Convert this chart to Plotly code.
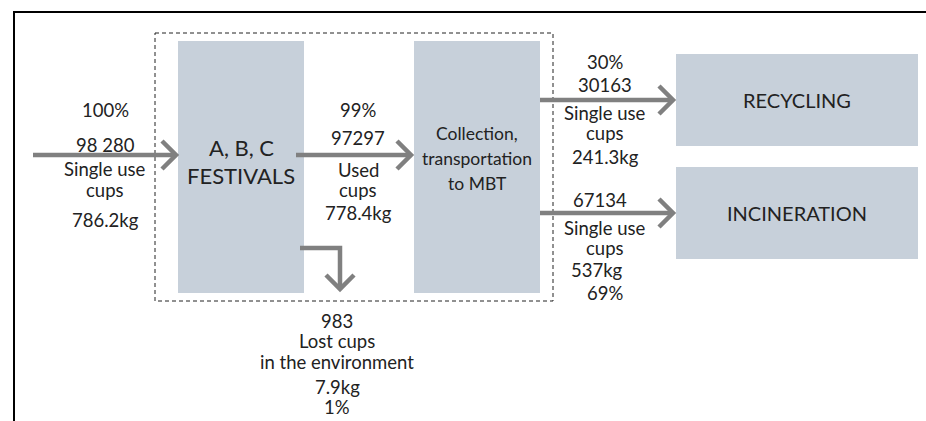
import plotly.graph_objects as go

# ---------------- data ----------------
stage_labels = ["A, B, C<br>FESTIVALS", "Collection,<br>transportation<br>to MBT", "RECYCLING", "INCINERATION"]
flow_names = ["input", "used", "recycling", "incineration", "lost"]
flow_cups = [98280, 97297, 30163, 67134, 983]
flow_kg = [786.2, 778.4, 241.3, 537, 7.9]
flow_pct = [100, 99, 30, 69, 1]
flow_desc = [["Single use", "cups"], ["Used", "cups"], ["Single use", "cups"],
             ["Single use", "cups"], ["Lost cups", "in the environment"]]

# ---------------- style / layout ----------------
W, H = 926, 421
BOX = "#c7d0da"
ARROW = "#808080"
TXT = "#222222"
FONT = "Lato"
FS = 18.5

fig = go.Figure()
shapes = []
ann = []

def rect(x0, y0, x1, y1):
    shapes.append(dict(type="rect", xref="x", yref="y", x0=x0, y0=y0, x1=x1, y1=y1,
                       fillcolor=BOX, line=dict(width=0), layer="below"))

def line(pts, color=ARROW, width=4.5, dash=None):
    path = "M " + " L ".join(f"{x},{y}" for x, y in pts)
    shapes.append(dict(type="path", xref="x", yref="y", path=path,
                       line=dict(color=color, width=width, dash=dash)))

def arrow_right(x0, x1, y, a=14):
    line([(x0, y), (x1 - 2, y)])
    line([(x1 - a, y - a), (x1, y), (x1 - a, y + a)])

def text(x, y, s, size=FS):
    ann.append(dict(x=x, y=y, xref="x", yref="y", text=s, showarrow=False,
                    font=dict(family=FONT, size=size, color=TXT),
                    xanchor="center", yanchor="middle"))

# outer frame (top and left border)
line([(14, H + 5), (14, 12), (W + 5, 12)], color="#000000", width=2)
# dashed system boundary
shapes.append(dict(type="rect", xref="x", yref="y", x0=155, y0=33, x1=553, y1=301,
                   line=dict(color="#222222", width=1, dash="4px,3px")))

# process boxes
rect(178, 41, 304, 293)
rect(414, 41, 540, 293)
rect(676, 54, 918, 146)
rect(676, 167, 918, 259)

# arrows
arrow_right(33, 176, 155)
arrow_right(296, 411, 155)
arrow_right(540, 673, 100)
arrow_right(540, 673, 213)
line([(300, 248), (340, 248), (340, 288)])
line([(326, 275), (340, 289), (354, 275)])

# stage labels
l0 = stage_labels[0].split("<br>")
text(241, 147, l0[0], 22)
text(241, 175, l0[1], 22)
l1 = stage_labels[1].split("<br>")
for s, y in zip(l1, [133, 158, 183]):
    text(477, y, s, 17.5)
text(797, 100, stage_labels[2], 20)
text(797, 213, stage_labels[3], 20)

def fmt_kg(v):
    return (f"{v:g}") + "kg"

# input flow
text(105, 110, f"{flow_pct[0]}%")
text(105, 145, f"{flow_cups[0]:,}".replace(",", " "))
text(105, 169, flow_desc[0][0])
text(105, 189.5, flow_desc[0][1])
text(105, 220, fmt_kg(flow_kg[0]))

# used cups flow
text(358, 110, f"{flow_pct[1]}%")
text(358, 138, f"{flow_cups[1]}")
text(358, 170, flow_desc[1][0])
text(358, 190, flow_desc[1][1])
text(358, 213, fmt_kg(flow_kg[1]))

# recycling flow
text(605, 62, f"{flow_pct[2]}%")
text(605, 85, f"{flow_cups[2]}")
text(605, 113, flow_desc[2][0])
text(605, 133, flow_desc[2][1])
text(605, 157, fmt_kg(flow_kg[2]))

# incineration flow
text(600, 200, f"{flow_cups[3]}")
text(605, 228, flow_desc[3][0])
text(605, 248, flow_desc[3][1])
text(597, 270, fmt_kg(flow_kg[3]))
text(605, 293, f"{flow_pct[3]}%")

# lost flow
text(337, 321, f"{flow_cups[4]}")
text(337, 341, flow_desc[4][0])
text(337, 361.5, flow_desc[4][1])
text(337, 387, fmt_kg(flow_kg[4]))
text(337, 407, f"{flow_pct[4]}%")

fig.update_layout(
    width=W, height=H,
    margin=dict(l=0, r=0, t=0, b=0),
    paper_bgcolor="white", plot_bgcolor="white",
    xaxis=dict(range=[0, W], visible=False, fixedrange=True),
    yaxis=dict(range=[H, 0], visible=False, fixedrange=True),
    shapes=shapes, annotations=ann, showlegend=False,
)
fig.write_html("out.html", config={"displayModeBar": False},
               post_script="document.body.style.margin='0';document.body.style.overflow='hidden';")
